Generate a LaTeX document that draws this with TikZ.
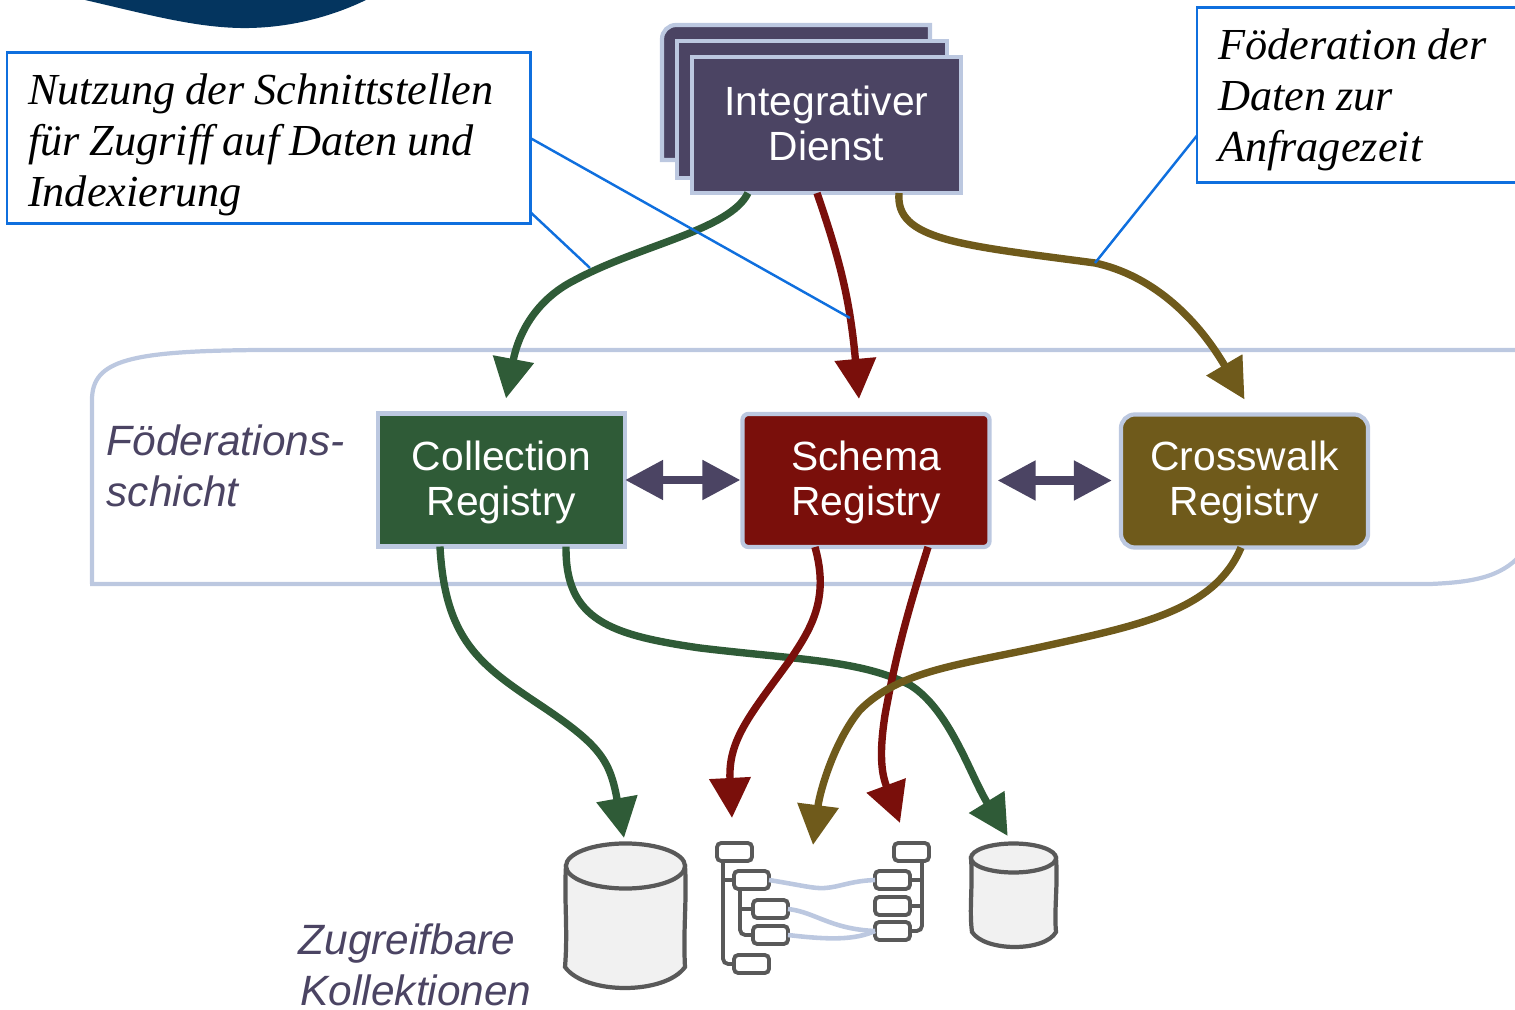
\documentclass[tikz,border=0pt]{standalone}
\usepackage{fontspec}
\setmainfont[WordSpace=0.9]{Liberation Serif}
\setsansfont{Liberation Sans}
\usetikzlibrary{arrows.meta,shapes.geometric}
\definecolor{rahmen}{HTML}{BCC8E0}
\definecolor{lila}{HTML}{4B4463}
\definecolor{gruen}{HTML}{2F5B37}
\definecolor{rot}{HTML}{7A0F0B}
\definecolor{oliv}{HTML}{6F5A1B}
\definecolor{blau}{HTML}{0F6FDE}
\definecolor{dunkel}{HTML}{04355F}
\definecolor{grau}{HTML}{595959}
\definecolor{hell}{HTML}{F1F1F1}
\tikzset{
	box/.style={draw=rahmen,line width=1.2pt,text=white,align=center,inner sep=0pt,outer sep=0pt,minimum width=2.47cm,minimum height=1.33cm,font=\sffamily\fontsize{11.6}{12.8}\selectfont},
	notiz/.style={draw=blau,fill=white,line width=.7pt,anchor=north west,align=flush left,inner ysep=0pt,inner xsep=.21cm,outer sep=0pt,font=\itshape\fontsize{12.6}{14.5}\selectfont},
	ebene/.style={text=lila,anchor=west,align=left,inner sep=0pt,font=\sffamily\itshape\fontsize{12.05}{14.5}\selectfont},
	pfeil/.style={line width=2.1pt,-{Triangle[length=.4cm,width=.4cm]}},
	doppel/.style={lila,line width=2.3pt,{Triangle[length=.38cm,width=.38cm]}-{Triangle[length=.38cm,width=.38cm]}},
	leitung/.style={blau,line width=.7pt},
	feld/.style={draw=grau,fill=white,line width=1.1pt,rounded corners=1.2pt,minimum width=.35cm,minimum height=.18cm,inner sep=0pt,outer sep=0pt},
	ast/.style={grau,line width=1.1pt,rounded corners=1.5pt},
	abbildung/.style={rahmen,line width=1.3pt},
	wand/.style={draw=grau,fill=hell,line width=1.2pt},
	deckel/.style={ellipse,draw=grau,fill=hell,line width=1.2pt,inner sep=0pt,outer sep=0pt}
}
\begin{document}
\begin{tikzpicture}[x=.01cm,y=-.01cm]
\useasboundingbox (0,0) rectangle (1515,1010);
\clip (0,0) rectangle (1515,1010);
%top shape
\fill[dunkel] (85,0) .. controls (150,15) and (200,29) .. (250,28) .. controls (295,27) and (335,15) .. (366,0) -- cycle;
%layer frame
\draw[rahmen,line width=1.2pt] (92,584) -- (92,400) .. controls (92,360) and (130,351) .. (260,350) -- (1530,350);
\draw[rahmen,line width=1.2pt] (90,584) -- (1430,584) .. controls (1480,582) and (1505,575) .. (1525,550);
%service stack
\filldraw[draw=rahmen,fill=lila,line width=1.2pt] (662,160) [rounded corners=.14cm] -- (662,25) [sharp corners] -- (930,25) -- (930,160) -- cycle;
\filldraw[draw=rahmen,fill=lila,line width=1.2pt] (677,178) -- (677,41) -- (947,41) -- (947,178) -- cycle;
\node[box,fill=lila,minimum width=2.69cm,minimum height=1.36cm] (dienst) at (826.5,125) {Integrativer\\Dienst\rule[-1.2pt]{0pt}{0pt}};
%registries
\node[box,fill=gruen] (collection) at (501.5,480) {\rule{0pt}{9.6pt}Collection\\Registry};
\node[box,fill=rot,rounded corners=.06cm] (schema) at (866,480.5) {\rule{0pt}{9.6pt}Schema\\Registry};
\node[box,fill=oliv,rounded corners=.14cm] (crosswalk) at (1244.5,481) {\rule{0pt}{9.4pt}Crosswalk\\Registry};
\draw[doppel,shorten >=.02cm] (collection.east) -- (collection.east -| schema.west);
\draw[doppel,shorten <=.08cm,shorten >=.09cm] (schema.east) -- (schema.east -| crosswalk.west);
%collections
\filldraw[wand] (566,866) .. controls (564,900) and (568,930) .. (565,967) .. controls (585,995) and (665,995) .. (685,967) .. controls (683,930) and (687,900) .. (685,866) -- cycle;
\node[deckel,minimum width=1.19cm,minimum height=.45cm] (gross) at (625.5,866) {};
\filldraw[wand] (971,858) .. controls (973,885) and (969,910) .. (972,932) .. controls (985,952) and (1045,952) .. (1056,932) .. controls (1054,910) and (1058,885) .. (1056,858) -- cycle;
\node[deckel,minimum width=.85cm,minimum height=.29cm] (klein) at (1013.5,858) {};
%tree
\foreach \n/\x/\y in {l0/734.5/852,l1/751.5/880,l2/770.5/909,l3/770.5/935,l4/751.5/964,r0/911.5/852,r1/892.5/880,r2/892.5/906,r3/892.5/931}
\node[feld] (\n) at (\x,\y) {};
\draw[ast] ([xshift=-.115cm]l0.south) |- (l4.west);
\draw[ast] (723,880) -- (l1.west);
\draw[ast] ([xshift=-.115cm]l1.south) |- (l3.west);
\draw[ast] (740,909) -- (l2.west);
\draw[ast] ([xshift=.105cm]r0.south) |- (r3.east);
\draw[ast] (922,880) -- (r1.east);
\draw[ast] (922,906) -- (r2.east);
%mapping
\draw[abbildung] (l1.east) .. controls (800,885) and (815,889) .. (825,888) .. controls (840,887) and (850,881) .. (r1.west);
\draw[abbildung] (l2.east) .. controls (815,912) and (830,929) .. (r3.west);
\draw[abbildung] (l3.east) .. controls (830,940) and (855,940) .. (r3.west);
%free arrow end
\coordinate (e8) at (813,845);
%arrows
\draw[pfeil,gruen] ([xshift=-.785cm]dienst.south) .. controls (730,230) and (640,245) .. (575,280) .. controls (535,300) and (518,335) .. ([xshift=.045cm,yshift=.15cm]collection.north);
\draw[pfeil,rot] ([xshift=-.095cm]dienst.south) .. controls (840,260) and (850,300) .. ([xshift=-.07cm,yshift=.15cm]schema.north);
\draw[pfeil,oliv] ([xshift=.725cm]dienst.south) .. controls (895,240) and (960,245) .. (1095,263) .. controls (1150,275) and (1195,315) .. ([yshift=.15cm]crosswalk.north);
\draw[pfeil,gruen] ([xshift=-.615cm]collection.south) .. controls (445,640) and (480,665) .. (540,705) .. controls (600,745) and (610,760) .. ([xshift=-.015cm,yshift=.055cm]gross.north);
\draw[pfeil,gruen] ([xshift=.645cm]collection.south) .. controls (565,620) and (610,635) .. (700,648) .. controls (800,660) and (860,660) .. (910,685) .. controls (950,710) and (970,775) .. ([xshift=-.058cm,yshift=.075cm]klein.north);
\draw[pfeil,rot] ([xshift=-.51cm]schema.south) .. controls (830,600) and (810,630) .. (790,660) .. controls (750,715) and (728,740) .. ([xshift=-.025cm,yshift=.25cm]l0.north);
\draw[pfeil,rot] ([xshift=.62cm]schema.south) .. controls (905,620) and (895,660) .. (885,715) .. controls (878,760) and (883,777) .. ([xshift=-.115cm,yshift=.2cm]r0.north);
\draw[pfeil,oliv] ([xshift=-.035cm]crosswalk.south) .. controls (1215,610) and (1140,625) .. (1050,645) .. controls (960,665) and (900,670) .. (860,710) .. controls (835,740) and (820,790) .. (e8);
%notes
\node[notiz,minimum width=5.23cm,minimum height=1.71cm,text width=4.81cm] (nutzung) at (7,52.5) {\rule{0pt}{12.8pt}Nutzung der Schnittstellen\\für Zugriff auf Daten und\\Indexierung};
\node[notiz,minimum height=1.75cm,text width=3.3cm] (foederation) at (1197,7.5) {\rule{0pt}{11.7pt}Föderation der\\Daten zur\\Anfragezeit};
\coordinate (n1) at (850,318);
\coordinate (n2) at (590,268);
\coordinate (n3) at (1095,263);
\draw[leitung] (nutzung.east) -- (n1);
\draw[leitung] ([yshift=-.74cm]nutzung.east) -- (n2);
\draw[leitung] ([yshift=-.405cm]foederation.west) -- (n3);
%labels
\node[ebene] (schicht) at (106,466) {Föderations-\\schicht};
\node[ebene] (kollektionen) at (298,965) {Zugreifbare\\\hspace*{.02cm}Kollektionen};
\end{tikzpicture}
\end{document}
